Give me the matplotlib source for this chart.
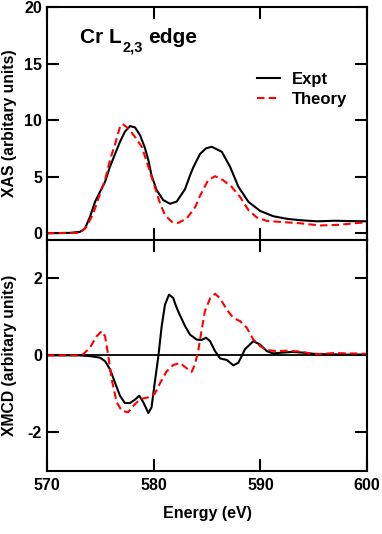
import matplotlib
matplotlib.use("Agg")
import matplotlib.pyplot as plt
from matplotlib.transforms import offset_copy

plt.rcParams['font.family'] = ['Liberation Sans', 'DejaVu Sans']
plt.rcParams['font.weight'] = 'bold'
plt.rcParams['axes.unicode_minus'] = False

# XAS experiment
xas_expt_e = [570, 572.2, 573.1, 573.56, 574.03, 574.5, 574.97, 575.44, 575.9, 576.4, 576.84, 577.3,
              577.78, 578.25, 578.72, 579.19, 579.5, 579.8, 580.28, 580.9, 581.53, 582.16, 582.94,
              583.4, 583.7, 584.34, 584.9, 585.44, 586.38, 587.16, 587.94, 588.88, 589.97, 591.2,
              592.5, 593.7, 595.3, 597.0, 598.5, 600]
xas_expt = [0, 0.03, 0.12, 0.41, 1.45, 2.77, 3.66, 4.54, 5.87, 7.05, 8.08, 8.97,
            9.47, 9.35, 8.67, 7.5, 6.46, 5.1, 3.8, 2.92, 2.6, 2.8, 3.9,
            5.1, 5.8, 7.0, 7.5, 7.64, 7.2, 5.87, 4.1, 2.77, 1.97, 1.5,
            1.27, 1.15, 1.05, 1.1, 1.07, 1.05]

# XAS theory
xas_theo_e = [570, 573.1, 573.7, 574.34, 574.97, 575.44, 575.9, 576.4, 576.84, 577.1, 577.6, 578.25,
              578.88, 579.5, 580.1, 580.6, 581.06, 581.7, 582.3, 583.1, 583.9, 584.34, 585.1, 585.75,
              586.5, 587.3, 588.1, 588.88, 589.66, 590.6, 591.84, 593.7, 595.6, 597.5, 599, 600]
xas_theo = [0, 0.03, 0.56, 1.74, 3.5, 4.7, 6.46, 7.94, 9.4, 9.65, 9.27, 8.52,
            7.64, 5.87, 4.1, 2.63, 1.6, 1.0, 0.91, 1.3, 2.33, 3.3, 4.69, 5.04,
            4.69, 4.1, 3.2, 2.04, 1.39, 1.09, 1.0, 0.88, 0.68, 0.75, 0.9, 0.95]

# XMCD experiment
xmcd_expt_e = [570, 573, 574.03, 574.97, 575.44, 575.9, 576.37, 576.84, 577.3, 577.78, 578.25, 578.65,
               579.03, 579.5, 579.8, 580.1, 580.44, 580.75, 581.06, 581.44, 581.84, 582.0, 582.3,
               582.94, 583.4, 584.03, 584.5, 584.9, 585.28, 585.75, 586.22, 586.85, 587.47, 587.94,
               588.56, 589.34, 589.97, 590.6, 591.2, 592, 593, 594, 595, 596, 598, 600]
xmcd_expt = [0, 0, -0.02, -0.06, -0.15, -0.36, -0.71, -1.05, -1.24, -1.24, -1.15, -1.05,
             -1.22, -1.5, -1.35, -0.71, -0.02, 0.76, 1.32, 1.58, 1.49, 1.35, 1.14,
             0.76, 0.54, 0.41, 0.4, 0.46, 0.37, 0.11, -0.08, -0.12, -0.26, -0.19,
             0.16, 0.37, 0.28, 0.11, 0.05, 0.07, 0.09, 0.07, 0.04, 0.03, 0.02, 0.02]

# XMCD theory
xmcd_theo_e = [570, 573, 573.4, 574.03, 574.66, 575.13, 575.44, 575.75, 576.06, 576.53, 577.0, 577.6,
               578.1, 578.72, 579.5, 580.1, 580.6, 581.2, 581.84, 582.47, 583.2, 583.56, 583.87,
               584.2, 584.5, 584.8, 585.3, 585.75, 586.2, 586.85, 587.47, 588.1, 588.72, 589.34,
               589.97, 590.6, 591.5, 592.5, 593.7, 594.5, 595.3, 596.9, 598.5, 600]
xmcd_theo = [0, 0, 0.03, 0.2, 0.5, 0.63, 0.5, -0.02, -0.62, -1.22, -1.44, -1.48,
             -1.31, -1.14, -1.09, -1.0, -0.72, -0.42, -0.25, -0.2, -0.36, -0.43, -0.23,
             0.16, 0.67, 1.15, 1.49, 1.6, 1.49, 1.19, 0.97, 0.89, 0.72, 0.41,
             0.24, 0.14, 0.11, 0.12, 0.1, 0.06, 0.03, 0.06, 0.05, 0.04]

xticks = [570, 580, 590, 600]
xas_yticks = [0, 5, 10, 15, 20]
xmcd_yticks = [-2, 0, 2]

fig = plt.figure(figsize=(3.82, 5.34), dpi=100)
L, R = 0.123, 0.961
ax1 = fig.add_axes([L, 0.5506, R - L, 0.987 - 0.5506])
ax2 = fig.add_axes([L, 0.1185, R - L, 0.5506 - 0.1185])

dash = (0, (3.6, 2.0))
lw = 1.5
kw = dict(solid_joinstyle='round', dash_joinstyle='round')
ax1.plot(xas_expt_e, xas_expt, color='black', lw=lw, label='Expt', **kw)
ax1.plot(xas_theo_e, xas_theo, color='#ff0000', lw=lw, linestyle=dash, label='Theory', **kw)
ax2.axhline(0, color='black', lw=1.3)
ax2.plot(xmcd_expt_e, xmcd_expt, color='black', lw=lw, **kw)
ax2.plot(xmcd_theo_e, xmcd_theo, color='#ff0000', lw=lw, linestyle=dash, **kw)

for ax in (ax1, ax2):
    ax.set_xlim(570, 600)
    ax.set_xticks(xticks)
    ax.tick_params(direction='in', length=8.5, width=1.5, top=True, right=True,
                   labelsize=11.5)
    ax.tick_params(axis='x', pad=5.5)
    ax.tick_params(axis='y', pad=3.5)
    for s in ax.spines.values():
        s.set_linewidth(1.5)

ax1.set_ylim(-0.6, 20)
ax1.set_yticks(xas_yticks)
ax1.tick_params(labelbottom=False)
ax2.set_ylim(-3, 3)
ax2.set_yticks(xmcd_yticks)
for ax in (ax1, ax2):
    for t in ax.get_xticklabels() + ax.get_yticklabels():
        t.set_fontweight('bold')

ax1.set_ylabel('XAS (arbitary units)', fontsize=11.3, fontweight='bold')
ax2.set_ylabel('XMCD (arbitary units)', fontsize=11.3, fontweight='bold')
ax2.set_xlabel('Energy (eV)', fontsize=11.5, fontweight='bold')
ax1.yaxis.set_label_coords(-0.093, 0.5)
ax2.yaxis.set_label_coords(-0.093, 0.5)
ax2.xaxis.set_label_coords(0.5, -0.155)

# Title built from pieces: "Cr L" + subscript "2,3" + " edge"
fig.canvas.draw()
tx, ty = 0.103, 0.846
t1 = ax1.text(tx, ty, 'Cr L', transform=ax1.transAxes, fontsize=15,
              fontweight='bold', va='baseline', ha='left')
fig.canvas.draw()
ext = t1.get_window_extent()
tr = offset_copy(t1.get_transform(), fig=fig, x=ext.width / fig.dpi * 72 + 0.5, y=-6.5,
                 units='points')
t2 = ax1.text(tx, ty, '2,3', transform=tr, fontsize=10.5, fontweight='bold',
              va='baseline', ha='left')
fig.canvas.draw()
ext2 = t2.get_window_extent()
tr3 = offset_copy(t1.get_transform(), fig=fig,
                  x=(ext.width + ext2.width) / fig.dpi * 72 + 0.5 + 3.5, y=0, units='points')
ax1.text(tx, ty, 'edge', transform=tr3, fontsize=15, fontweight='bold',
         va='baseline', ha='left')

ax1.legend(loc='upper left', bbox_to_anchor=(0.656, 0.722), frameon=False, fontsize=12,
           handlelength=1.4, handletextpad=0.7, labelspacing=0.3, borderpad=0,
           borderaxespad=0)

fig.savefig('out.png', dpi=100)
